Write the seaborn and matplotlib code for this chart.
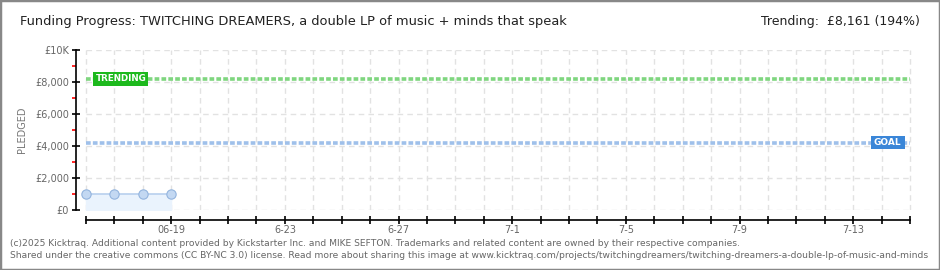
import matplotlib
matplotlib.use("Agg")
import matplotlib.pyplot as plt
import seaborn as sns
import pandas as pd
import numpy as np
from matplotlib.patches import Rectangle

sns.set_theme(style="white")
plt.rcParams['font.family'] = ['DejaVu Sans']

# ---- data ----
title = "Funding Progress: TWITCHING DREAMERS, a double LP of music + minds that speak"
trending_text = "Trending:  £8,161 (194%)"
dates = ["06-16", "06-17", "06-18", "06-19"]
pledged = [1000, 1000, 1000, 1000]
goal = 4200
trending = 8161
all_days = pd.date_range("2025-06-16", "2025-07-15", freq="D")
tick_labels = {"2025-06-19": "06-19", "2025-06-23": "6-23", "2025-06-27": "6-27",
               "2025-07-01": "7-1", "2025-07-05": "7-5", "2025-07-09": "7-9",
               "2025-07-13": "7-13"}
y_major = [0, 2000, 4000, 6000, 8000, 10000]
y_labels = ["£0", "£2,000", "£4,000", "£6,000", "£8,000", "£10K"]
y_minor = [1000, 3000, 5000, 7000, 9000]
footer1 = ("(c)2025 Kicktraq. Additional content provided by Kickstarter Inc. and MIKE SEFTON. "
           "Trademarks and related content are owned by their respective companies.")
footer2 = ("Shared under the creative commons (CC BY-NC 3.0) license. Read more about sharing this image at "
           "www.kicktraq.com/projects/twitchingdreamers/twitching-dreamers-a-double-lp-of-music-and-minds")

W, H = 940, 270
fig = plt.figure(figsize=(W / 100, H / 100), dpi=100)
fig.patch.set_facecolor("white")

ax_left, ax_right, ax_top, ax_bottom = 76, 912, 50, 210
ax = fig.add_axes([ax_left / W, 1 - ax_bottom / H, (ax_right - ax_left) / W, (ax_bottom - ax_top) / H])

n_days = len(all_days) - 1  # 29
px_per_day = (910 - 86) / n_days
x0 = -(86 - ax_left) / px_per_day
x1 = n_days + (ax_right - 910) / px_per_day
ax.set_xlim(x0, x1)
ax.set_ylim(0, 10000)

df = pd.DataFrame({"day": np.arange(len(dates)), "pledged": pledged, "date": dates})

# grid
for d in range(n_days + 1):
    ax.plot([d, d], [0, 10000], color="#e2e2e2", lw=1, ls=(0, (4, 3)), zorder=0)
for yv in y_major:
    ax.plot([0, n_days], [yv, yv], color="#e2e2e2", lw=1, ls=(0, (4, 3)), zorder=0)

# fill + line + points
ax.fill_between(df["day"], 0, df["pledged"], color="#eaf3fd", zorder=1)
sns.lineplot(data=df, x="day", y="pledged", ax=ax, color="#b8d0ee", lw=1.2, zorder=2)
sns.scatterplot(data=df, x="day", y="pledged", ax=ax, s=45, color="#c3d8f2",
                edgecolor="#93b4de", linewidth=0.8, zorder=3)

# trending & goal lines
ax.plot([0, n_days], [trending, trending], color="#7fd67f", lw=2.6, ls=(0, (1.3, 0.6)), zorder=2)
ax.plot([0, n_days], [goal, goal], color="#9fc0ea", lw=2.6, ls=(0, (1.3, 0.6)), zorder=2)

# label boxes
def label_box(xp0, xp1, yp0, yp1, text, fc, fs):
    r = Rectangle((xp0 / W, 1 - yp1 / H), (xp1 - xp0) / W, (yp1 - yp0) / H,
                  transform=fig.transFigure, facecolor=fc, edgecolor="none", zorder=10)
    fig.patches.append(r)
    fig.text((xp0 + 3) / W, 1 - ((yp0 + yp1) / 2) / H, text, color="white", fontsize=fs,
             fontweight="bold", va="center", ha="left", zorder=11)

label_box(93, 148, 72, 86, "TRENDING", "#1db91d", 6.3)
label_box(871, 905, 136, 149, "GOAL", "#3a86d8", 6.5)

# spines
for s in ["top", "right"]:
    ax.spines[s].set_visible(False)
ax.spines["left"].set_color("black")
ax.spines["left"].set_linewidth(1.2)
ax.spines["bottom"].set_position(("outward", 7.2))
ax.spines["bottom"].set_bounds(0, n_days)
ax.spines["bottom"].set_color("black")
ax.spines["bottom"].set_linewidth(1.2)

# y ticks
ax.set_yticks(y_major)
ax.set_yticklabels(y_labels)
ax.set_yticks(y_minor, minor=True)
ax.tick_params(axis="y", which="major", direction="inout", length=6, width=1.2, color="black",
               labelsize=7, labelcolor="#666666", pad=2, left=True)
ax.tick_params(axis="y", which="minor", direction="out", length=3, width=1.2, color="red", left=True)

# x ticks
ax.set_xticks(range(n_days + 1))
labels = [tick_labels.get(d.strftime("%Y-%m-%d"), "") for d in all_days]
ax.set_xticklabels(labels)
ax.tick_params(axis="x", which="major", direction="inout", length=6, width=1.2, color="black",
               labelsize=7, labelcolor="#666666", pad=0.5, bottom=True)
ax.set_xlabel("")
ax.set_ylabel("PLEDGED", fontsize=7, color="#777777", labelpad=6)

# title & texts
fig.text(20 / W, 1 - 22 / H, title, fontsize=9.4, color="#222222", va="center", ha="left")
fig.text(920 / W, 1 - 22 / H, trending_text, fontsize=9.0, color="#222222", va="center", ha="right")
fig.text(10 / W, 1 - 243 / H, footer1, fontsize=6.6, color="#666666", va="center", ha="left")
fig.text(10 / W, 1 - 255 / H, footer2, fontsize=6.6, color="#666666", va="center", ha="left")

# frame
fig.patches.append(Rectangle((0, 0), 1, 1, transform=fig.transFigure, fill=False,
                             edgecolor="#888888", linewidth=2.5, zorder=20))

fig.savefig("out.png", dpi=100)
